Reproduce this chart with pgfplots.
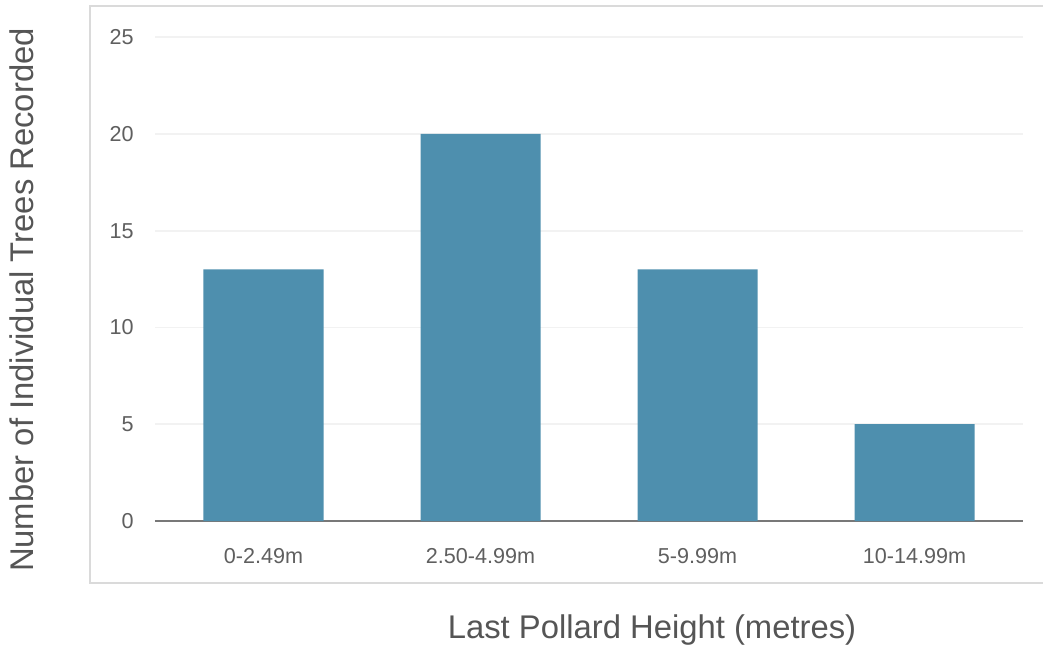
\documentclass[border=0pt]{standalone}
\usepackage{fontspec}
\setmainfont{Liberation Sans}
\usepackage{pgfplots}
\pgfplotsset{compat=1.18}
\definecolor{barblue}{RGB}{78,143,174}
\definecolor{labelgray}{RGB}{85,85,85}
\definecolor{tickgray}{RGB}{95,95,95}
\definecolor{framegray}{RGB}{218,218,218}
\definecolor{gridgray}{RGB}{242,242,242}
\definecolor{basegray}{RGB}{120,120,120}
\begin{document}
\begin{tikzpicture}
\useasboundingbox (0,0) rectangle (521.5pt,324pt);
\draw[draw=framegray, line width=1pt] (45pt,32.5pt) rectangle (530pt,321pt);
\begin{axis}[
  at={(77.5pt,63.5pt)}, anchor=south west,
  width=434pt, height=241.9pt, scale only axis,
  xmin=-0.5, xmax=3.5, ymin=0, ymax=25,
  ytick={0,5,10,15,20,25},
  xtick={0,1,2,3},
  xticklabels={0-2.49m,2.50-4.99m,5-9.99m,10-14.99m},
  /pgf/number format/assume math mode=true,
  axis x line=bottom, axis y line=left,
  y axis line style={draw=none},
  x axis line style={draw=basegray, line width=0.8pt, -},
  major tick length=0pt,
  ymajorgrids, grid style={draw=gridgray, line width=0.8pt},
  tick label style={font=\fontsize{10.8}{12}\selectfont, text=tickgray},
  yticklabel style={anchor=east, inner sep=0pt, xshift=-10.5pt},
  xticklabel style={anchor=base, inner sep=0pt, yshift=-21pt},
  xlabel={Last Pollard Height (metres)},
  ylabel={Number of Individual Trees Recorded},
  label style={font=\fontsize{16.4}{19}\selectfont, text=labelgray},
  xlabel style={at={(axis description cs:0.5726,-0.2253)}, anchor=center},
  ylabel style={at={(axis description cs:-0.1532,0.4568)}, anchor=center, rotate=0},
]
\addplot[ybar, bar width=60pt, fill=barblue, draw=none] coordinates {(0,13) (1,20) (2,13) (3,5)};
\end{axis}
\end{tikzpicture}
\end{document}
